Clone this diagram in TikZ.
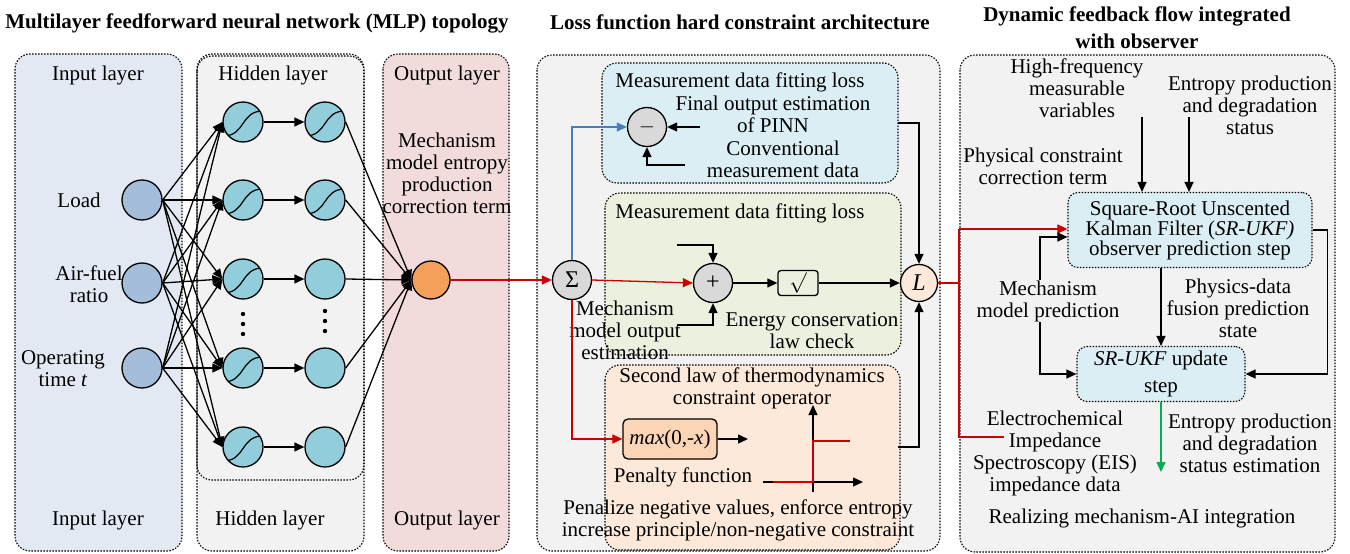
\documentclass[tikz,border=0pt]{standalone}
\usepackage{fontspec}
\setmainfont{Liberation Serif}
\usetikzlibrary{arrows.meta,calc}
\definecolor{inpanel}{RGB}{226,233,243}
\definecolor{graypanel}{RGB}{242,242,242}
\definecolor{outpanel}{RGB}{242,220,219}
\definecolor{inC}{RGB}{163,189,219}
\definecolor{hidC}{RGB}{146,205,220}
\definecolor{outC}{RGB}{245,160,90}
\definecolor{opC}{RGB}{217,217,217}
\definecolor{bluebox}{RGB}{218,238,243}
\definecolor{greenbox}{RGB}{235,241,222}
\definecolor{peachbox}{RGB}{253,233,217}
\definecolor{maxC}{RGB}{251,213,181}
\definecolor{redC}{RGB}{204,0,0}
\definecolor{blueC}{RGB}{74,126,187}
\definecolor{greenC}{RGB}{0,176,80}
\begin{document}
\begin{tikzpicture}[x=1pt,y=-1pt,font=\fontsize{21}{22}\selectfont,
  panel/.style={draw=black,line width=1.1pt,dash pattern=on 1.5pt off 1.5pt,rounded corners=15pt},
  txt/.style={align=center,inner sep=0pt},
  arr/.style={-{Triangle[length=10pt,width=9pt]},line width=1.3pt},
  ln/.style={line width=1.3pt},
  inp/.style={circle,draw,line width=1.3pt,fill=inC,minimum size=40pt,inner sep=0pt},
  hid/.style={circle,draw,line width=1.3pt,fill=hidC,minimum size=40pt,inner sep=0pt},
  sig/.style={hid,path picture={\draw[line width=1.2pt] ([shift={(-20,14)}]path picture bounding box.center) .. controls ([shift={(3,14)}]path picture bounding box.center) and ([shift={(-3,-11)}]path picture bounding box.center) .. ([shift={(20,-11)}]path picture bounding box.center);}},
  op/.style={circle,draw,line width=1.3pt,fill=opC,minimum size=39pt,inner sep=0pt},
  sbox/.style={draw,line width=1.1pt,dash pattern=on 1.5pt off 1.5pt,rounded corners=10pt,fill=bluebox,align=center,inner sep=0pt,font=\fontsize{21}{20}\selectfont}
]
\useasboundingbox (0,0) rectangle (1350,554);

% titles
\node[txt,font=\bfseries\fontsize{21}{22}\selectfont] (t1) at (257,23) {Multilayer feedforward neural network (MLP) topology};
\node[txt,font=\bfseries\fontsize{21}{22}\selectfont] (t2) at (740,22) {Loss function hard constraint architecture};
\node[txt,font=\bfseries\fontsize{21}{27}\selectfont] (t3) at (1137,28) {Dynamic feedback flow integrated\\with observer};

% panels
\draw[panel,fill=inpanel] (15,54) rectangle (182,551);
\draw[panel,fill=graypanel] (197,54) rectangle (364,551);
\draw[panel] (197,56) rectangle (364,480);
\draw[panel,fill=outpanel] (383,54) rectangle (509,551);
\draw[panel,fill=graypanel] (537,55) rectangle (940,551);
\draw[panel,fill=graypanel] (960,55) rectangle (1335,552);

\draw[panel,fill=bluebox] (602,63) rectangle (898,183);
\draw[panel,fill=greenbox] (605,193) rectangle (901,355);
\draw[panel,fill=peachbox] (605,365) rectangle (900,550);

% panel labels
\node[txt] (il1) at (98,75) {Input layer};
\node[txt] (il2) at (98,520) {Input layer};
\node[txt] (hl1) at (273,75) {Hidden layer};
\node[txt] (hl2) at (270,520) {Hidden layer};
\node[txt] (ol1) at (447,75) {Output layer};
\node[txt] (ol2) at (447,520) {Output layer};
\node[txt] (otxt) at (447,173) {Mechanism\\model entropy\\production\\correction term};

% input nodes
\node[inp] (in1) at (142,200) {};
\node[inp] (in2) at (142,283) {};
\node[inp] (in3) at (142,368) {};
\node[txt] (lb1) at (79,200) {Load};
\node[txt] (lb2) at (89,284) {Air-fuel\\ratio};
\node[txt] (lb3) at (63,369) {Operating\\time \textit{t}};

% hidden nodes
\node[sig] (h11) at (243,122) {};
\node[sig] (h12) at (243,200) {};
\node[sig] (h13) at (243,279) {};
\node[sig] (h14) at (243,368) {};
\node[sig] (h15) at (243,447) {};
\node[sig] (h21) at (325,122) {};
\node[sig] (h22) at (325,200) {};
\node[hid] (h23) at (325,279) {};
\node[hid] (h24) at (325,368) {};
\node[hid] (h25) at (325,447) {};
\foreach \yy in {314,324,334} \fill (243,\yy) circle (2.2);
\foreach \yy in {311,321,331} \fill (325,\yy) circle (2.2);

% output node
\node[circle,draw,line width=1.3pt,fill=outC,minimum size=38pt,inner sep=0pt] (out) at (431,280) {};

\foreach \i in {1,2,3}{\foreach \j in {1,...,5}{\draw[arr] (in\i.east) -- (h1\j.west);}}
\foreach \j in {1,...,5}{\draw[arr] (h1\j.east) -- (h2\j.west);\draw[arr] (h2\j.east) -- (out.west);}

% middle panel
\node[op,font=\fontsize{24}{24}\selectfont] (sig) at (572,280) {Σ};
\draw[arr,redC] (out.east) -- (sig.west);
\node[txt] (b1t) at (740,82) {Measurement data fitting loss};
\node[op] (minus) at (647,127) {$-$};
\node[txt] (fot) at (773,114) {Final output estimation\\of PINN};
\node[txt] (cmt) at (783,159) {Conventional\\measurement data};
\coordinate (fo) at (700,127);
\coordinate (cm) at (685,165);
\draw[arr] (fo) -- (minus.east);
\draw[arr] (cm) -| (minus.south);
\draw[arr,blueC] (sig.north) |- (minus.west);

\node[txt] (b2t) at (740,213) {Measurement data fitting loss};
\node[op,font=\fontsize{24}{24}\selectfont] (plus) at (713,283) {+};
\node[draw,line width=1.3pt,rounded corners=3pt,minimum width=40pt,minimum height=25pt,inner sep=0pt,fill=greenbox] (sq) at (798,283) {$\surd$};
\node[circle,draw,line width=1.3pt,fill=peachbox,minimum size=37pt,inner sep=0pt,font=\fontsize{24}{24}\selectfont] (L) at (919,283) {\textit{L}};
\coordinate (pt) at (677,245);
\coordinate (pb) at (677,325);
\draw[arr] (pt) -| (plus.north);
\draw[arr] (pb) -| (plus.south);
\draw[arr,redC] (sig.east) -- (plus.west);
\draw[arr] (plus.east) -- (sq.west);
\draw[arr] (sq.east) -- (L.west);
\node[txt] (mmo) at (625,330) {Mechanism\\model output\\estimation};
\node[txt] (ecl) at (812,331) {Energy conservation\\law check};
\coordinate (b1o) at (898,123);
\draw[arr] (b1o) -| (L.north);

\node[txt] (b3t) at (752,388) {Second law of thermodynamics\\constraint operator};
\node[draw,line width=1.3pt,rounded corners=5pt,minimum width=94pt,minimum height=40pt,inner sep=0pt,fill=maxC] (mx) at (670,439) {\textit{max}(0,-\textit{x})};
\draw[arr,redC] (sig.south) |- (mx.west);
\coordinate (mxo) at (748,439);
\draw[arr] (mx.east) -- (mxo);
\node[txt] (pen) at (683,477) {Penalty function};
\node[txt] (pnt) at (738,520) {Penalize negative values, enforce entropy\\increase principle/non-negative constraint};
% step graph
\draw[arr] (813,492) -- (813,405);
\draw[arr] (763,482) -- (863,482);
\draw[redC,line width=1.3pt] (773,482) -- (813,482) -- (813,441) -- (850,441);
\coordinate (b3o) at (898,447);
\draw[arr] (b3o) -| (L.south);

% right panel
\node[txt] (hfv) at (1077,88) {High-frequency\\measurable\\variables};
\node[txt] (epd) at (1250,105) {Entropy production\\and degradation\\status};
\node[txt] (pcc) at (1043,166) {Physical constraint\\correction term};
\node[sbox,minimum width=244pt,minimum height=75pt] (SRp) at (1190,230) {Square-Root Unscented\\Kalman Filter (\textit{SR-UKF)}\\observer prediction step};
\node[sbox,minimum width=168pt,minimum height=55pt,font=\fontsize{21}{27}\selectfont] (SRu) at (1161,374) {\textit{SR-UKF} update\\step};
\coordinate (hf) at (1142,117);
\coordinate (ep) at (1189,117);
\draw[arr] (hf) -- (hf |- SRp.north);
\draw[arr] (ep) -- (ep |- SRp.north);
\coordinate (rt) at (959,229);
\coordinate (rb) at (959,437);
\coordinate (re) at (1004,437);
\draw[redC,line width=1.3pt] (L.east) -| (rb) -- (re);
\draw[redC,line width=1.3pt] (L.east) -| (rt);
\draw[arr,redC] (rt) -- (rt -| SRp.west);
\node[txt] (mmp) at (1048,301) {Mechanism\\model prediction};
\draw[arr] (mmp.north -| 1040,0) |- ([yshift=-7pt]SRp.west);
\draw[arr] (mmp.south -| 1040,0) |- (SRu.west);
\node[txt] (pdf) at (1238,308) {Physics-data\\fusion prediction\\state};
\draw[arr] (SRu.north |- SRp.south) -- (SRu.north);
\draw[arr] (SRp.east) -- ++(15,0) |- (SRu.east);
\coordinate (ge) at (1161,472);
\draw[arr,greenC] (SRu.south) -- (ge);
\node[txt] (eis) at (1055,453) {Electrochemical\\Impedance\\Spectroscopy (EIS)\\impedance data};
\node[txt] (eps) at (1250,443) {Entropy production\\and degradation\\status estimation};
\node[txt] (rmi) at (1142,518) {Realizing mechanism-AI integration};
\end{tikzpicture}
\end{document}
